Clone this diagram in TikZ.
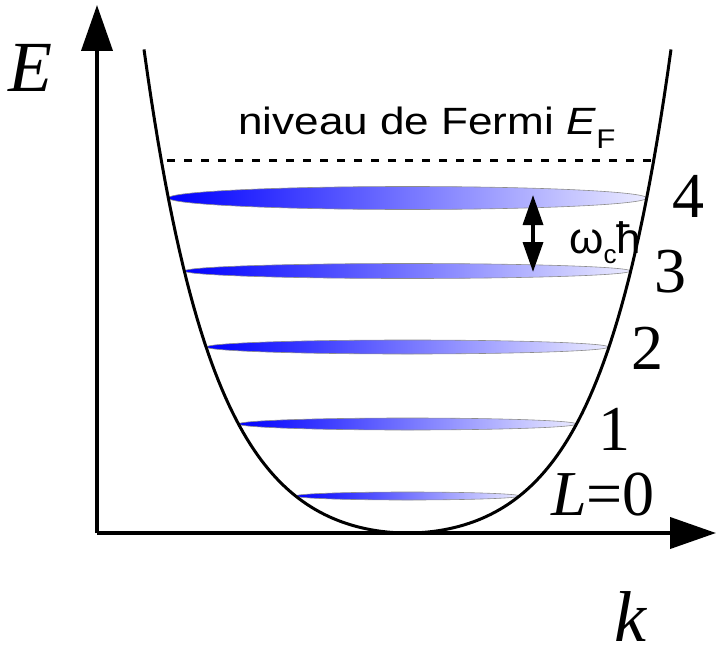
\documentclass[tikz,border=0pt]{standalone}
\usepackage{fontspec}
\setmainfont{Liberation Serif}
\newfontfamily\labelsf{Liberation Sans}
\usetikzlibrary{arrows.meta, shapes.geometric}

\begin{document}
\begin{tikzpicture}[
  x=1bp, y=-1bp,
  axis/.style={line width=4bp, -{Triangle[length=46bp, width=31bp]}},
  band/.style={line width=3bp},
  level/.style={ellipse, draw=black!45, line width=0.6bp, inner sep=0pt,
                left color=blue, right color=blue!8},
  fermi/.style={line width=3bp, dash pattern=on 7.5bp off 9.5bp},
  gaparrow/.style={line width=3.5bp,
                   {Triangle[length=30bp, width=20bp]}-{Triangle[length=30bp, width=20bp]}},
  num/.style={font=\fontsize{64bp}{64bp}\selectfont, inner sep=0pt, anchor=base},
  axlbl/.style={font=\fontsize{72bp}{72bp}\selectfont\itshape, inner sep=0pt, anchor=base west},
  sflbl/.style={inner sep=0pt, anchor=base west},
]
  \useasboundingbox (0,0) rectangle (716,650);

  \coordinate (orig) at (97,533);
  \coordinate (etop) at (97,5);
  \coordinate (kend) at (716,533);
  \coordinate (ef_l) at (167,160);
  \coordinate (ef_r) at (651,160);
  \coordinate (gtop) at (533,195);
  \coordinate (gbot) at (533,272);

  % Landau levels
  \node[level, minimum width=478bp, minimum height=23bp] (lvl4) at (407.5,198) {};
  \node[level, minimum width=446bp, minimum height=15bp] (lvl3) at (407.5,271) {};
  \node[level, minimum width=402bp, minimum height=14bp] (lvl2) at (407.5,347) {};
  \node[level, minimum width=338bp, minimum height=12bp] (lvl1) at (407.5,424) {};
  \node[level, minimum width=224bp, minimum height=8bp]  (lvl0) at (407.5,496) {};

  % band E(k)
  \draw[band] plot[domain=-263.5:263.5, samples=150, variable=\w]
    ({407.5+\w}, {533-23.5*(cosh(\w/70)-1)});

  \draw[axis] (orig) -- (etop);
  \draw[axis] (orig) -- (kend);
  \draw[fermi] (ef_l) -- (ef_r);
  \draw[gaparrow] (gtop) -- (gbot);

  \node[axlbl] (elbl) at (8,92) {E};
  \node[axlbl] (klbl) at (614,641) {k};

  \node[sflbl, font=\labelsf\fontsize{38bp}{38bp}\selectfont] (eflbl) at (238,135)
       {\scalebox{1.16}[1]{niveau de Fermi \textit{E}\raisebox{-13bp}{\fontsize{27bp}{27bp}\selectfont F}}};
  \node[sflbl, font=\labelsf\fontsize{44bp}{44bp}\selectfont] (wlbl) at (569,253)
       {ω\raisebox{-10bp}{\fontsize{26bp}{26bp}\selectfont c}ħ};

  \node[num] (n4) at (688,217) {4};
  \node[num] (n3) at (670,292) {3};
  \node[num] (n2) at (647,369) {2};
  \node[num] (n1) at (614,450) {1};
  \node[num, anchor=base west] (n0) at (551,515) {\textit{L}=0};
\end{tikzpicture}
\end{document}
